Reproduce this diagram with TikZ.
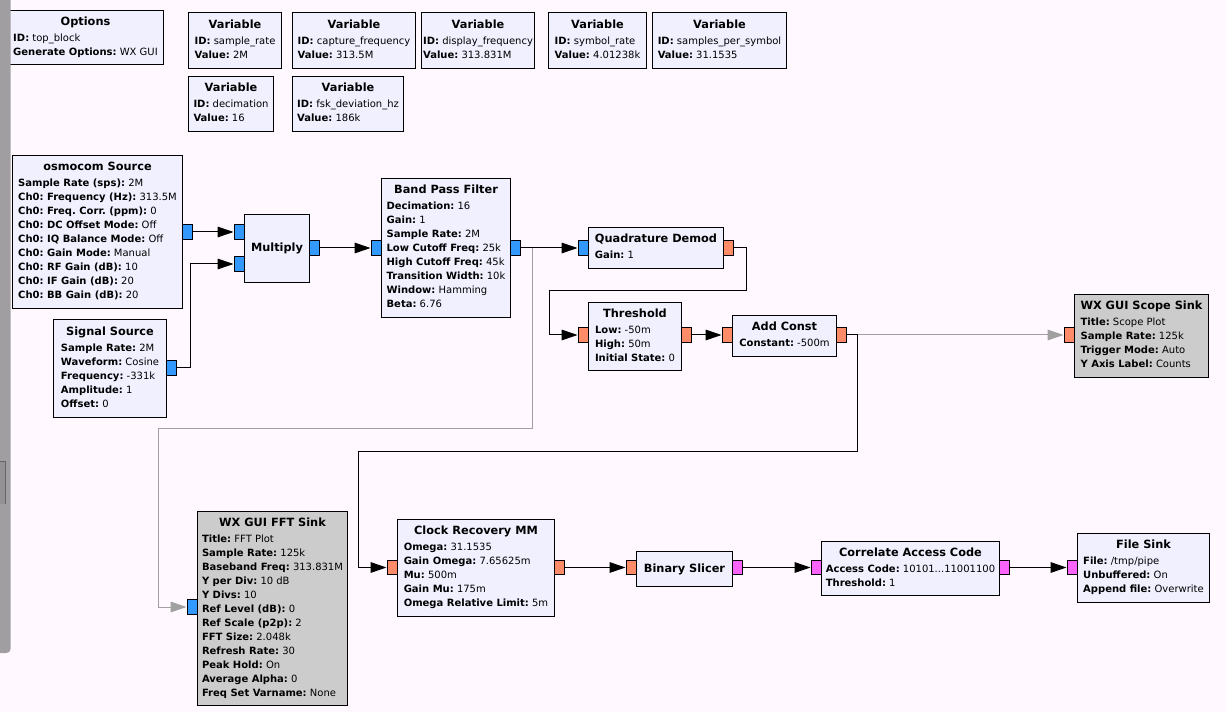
\documentclass[tikz,border=0pt]{standalone}
\usepackage{fontspec}
\setmainfont{DejaVu Sans}
\usetikzlibrary{arrows.meta}
\frenchspacing

\definecolor{fondo}{RGB}{255,249,255}
\definecolor{bloque}{RGB}{240,240,255}
\definecolor{sumidero}{RGB}{204,204,204}
\definecolor{complejo}{RGB}{51,153,255}
\definecolor{real}{RGB}{255,140,105}
\definecolor{byte}{RGB}{250,100,250}
\definecolor{gris}{RGB}{160,160,160}
\definecolor{barra}{RGB}{161,158,161}

% titulo centrado y parametros alineados a la izquierda
\newcommand{\tit}[1]{{\fontsize{8.5}{10.5}\selectfont\bfseries #1}}
\newcommand{\blq}[2]{\begin{tabular}{@{}l@{}}\multicolumn{1}{@{}c@{}}{\tit{#1}}\\[1.5pt] #2\end{tabular}}
\newcommand{\prm}[2]{\textbf{#1:} #2}

\tikzset{
  blk/.style={draw, fill=bloque, line width=0.75pt, anchor=north west, inner sep=0pt,
    font=\fontsize{7.5}{10.5}\selectfont},
  sink/.style={blk, fill=sumidero},
  sz/.style 2 args={minimum width=#1*0.75pt, minimum height=#2*0.75pt},
  port/.style={draw, line width=0.75pt, inner sep=0pt, minimum width=7.5pt, minimum height=11pt},
  cpx/.style={port, fill=complejo},
  flt/.style={port, fill=real},
  byt/.style={port, fill=byte},
  wire/.style={line width=0.75pt, -{Triangle[length=12pt, width=8pt]}},
  gwire/.style={wire, draw=gris}
}

\begin{document}
\begin{tikzpicture}[x=0.75pt, y=-0.75pt]
            \useasboundingbox (0,0) rectangle (1226,712);
            \fill[fondo] (0,0) rectangle (1226,712);

            % Variables
            \node[blk, sz={156}{54}] (opts) at (7,10) {\blq{Options}{\prm{ID}{top\_block}\\ \prm{Generate Options}{WX GUI}}};
            \node[blk, sz={93}{56}] (samprate) at (188,12) {\blq{Variable}{\prm{ID}{sample\_rate}\\ \prm{Value}{2M}}};
            \node[blk, sz={123}{56}] (capfreq) at (292,12) {\blq{Variable}{\prm{ID}{capture\_frequency}\\ \prm{Value}{313.5M}}};
            \node[blk, sz={113}{56}] (dispfreq) at (421,12) {\blq{Variable}{\prm{ID}{display\_frequency}\\ \prm{Value}{313.831M}}};
            \node[blk, sz={98}{56}] (symrate) at (548,12) {\blq{Variable}{\prm{ID}{symbol\_rate}\\ \prm{Value}{4.01238k}}};
            \node[blk, sz={134}{56}] (sps) at (652,12) {\blq{Variable}{\prm{ID}{samples\_per\_symbol}\\ \prm{Value}{31.1535}}};
            \node[blk, sz={85}{55}] (decim) at (188,76) {\blq{Variable}{\prm{ID}{decimation}\\ \prm{Value}{16}}};
            \node[blk, sz={111}{55}] (fskdev) at (292,76) {\blq{Variable}{\prm{ID}{fsk\_deviation\_hz}\\ \prm{Value}{186k}}};

            % Bloques
            \node[blk, sz={170}{153}] (osmo) at (12,155) {\blq{osmocom Source}{
              \prm{Sample Rate (sps)}{2M}\\ \prm{Ch0: Frequency (Hz)}{313.5M}\\ \prm{Ch0: Freq. Corr. (ppm)}{0}\\
              \prm{Ch0: DC Offset Mode}{Off}\\ \prm{Ch0: IQ Balance Mode}{Off}\\ \prm{Ch0: Gain Mode}{Manual}\\
              \prm{Ch0: RF Gain (dB)}{10}\\ \prm{Ch0: IF Gain (dB)}{20}\\ \prm{Ch0: BB Gain (dB)}{20}}};
            \node[blk, sz={113}{98}] (sigsrc) at (53,319) {\blq{Signal Source}{
              \prm{Sample Rate}{2M}\\ \prm{Waveform}{Cosine}\\ \prm{Frequency}{-331k}\\ \prm{Amplitude}{1}\\ \prm{Offset}{0}}};
            \node[blk, sz={65}{68}] (mult) at (244,214) {\tit{Multiply}};
            \node[blk, sz={129}{139}] (bpf) at (381,178) {\blq{Band Pass Filter}{
              \prm{Decimation}{16}\\ \prm{Gain}{1}\\ \prm{Sample Rate}{2M}\\ \prm{Low Cutoff Freq}{25k}\\
              \prm{High Cutoff Freq}{45k}\\ \prm{Transition Width}{10k}\\ \prm{Window}{Hamming}\\ \prm{Beta}{6.76}}};
            \node[blk, sz={135}{41}] (quad) at (588,227) {\blq{Quadrature Demod}{\prm{Gain}{1}}};
            \node[blk, sz={93}{68}] (thr) at (588,302) {\blq{Threshold}{
              \prm{Low}{-50m}\\ \prm{High}{50m}\\ \prm{Initial State}{0}}};
            \node[blk, sz={104}{41}] (addc) at (732,315) {\blq{Add Const}{\prm{Constant}{-500m}}};
            \node[sink, sz={134}{83}] (scope) at (1074,294) {\blq{WX GUI Scope Sink}{
              \prm{Title}{Scope Plot}\\ \prm{Sample Rate}{125k}\\ \prm{Trigger Mode}{Auto}\\ \prm{Y Axis Label}{Counts}}};
            \node[sink, sz={150}{194}] (fft) at (197,511) {\blq{WX GUI FFT Sink}{
              \prm{Title}{FFT Plot}\\ \prm{Sample Rate}{125k}\\ \prm{Baseband Freq}{313.831M}\\ \prm{Y per Div}{10 dB}\\
              \prm{Y Divs}{10}\\ \prm{Ref Level (dB)}{0}\\ \prm{Ref Scale (p2p)}{2}\\ \prm{FFT Size}{2.048k}\\
              \prm{Refresh Rate}{30}\\ \prm{Peak Hold}{On}\\ \prm{Average Alpha}{0}\\ \prm{Freq Set Varname}{None}}};
            \node[blk, sz={157}{97}] (clock) at (397,519) {\blq{Clock Recovery MM}{
              \prm{Omega}{31.1535}\\ \prm{Gain Omega}{7.65625m}\\ \prm{Mu}{500m}\\ \prm{Gain Mu}{175m}\\ \prm{Omega Relative Limit}{5m}}};
            \node[blk, sz={96}{35}] (slicer) at (636,551) {\tit{Binary Slicer}};
            \node[blk, sz={178}{54}] (corr) at (821,541) {\blq{Correlate Access Code}{
              \prm{Access Code}{10101...11001100}\\ \prm{Threshold}{1}}};
            \node[blk, sz={132}{69}] (fsink) at (1077,533) {\blq{File Sink}{
              \prm{File}{/tmp/pipe}\\ \prm{Unbuffered}{On}\\ \prm{Append file}{Overwrite}}};

            % Puertos
            \node[cpx] (osmo_o) at (187,232) {};
            \node[cpx] (sig_o) at (171,368) {};
            \node[cpx] (mult_i1) at (239,232) {};
            \node[cpx] (mult_i2) at (239,264) {};
            \node[cpx] (mult_o) at (314,248) {};
            \node[cpx] (bpf_i) at (376,248) {};
            \node[cpx] (bpf_o) at (515,248) {};
            \node[cpx] (quad_i) at (583,248) {};
            \node[flt] (quad_o) at (728,248) {};
            \node[flt] (thr_i) at (583,335) {};
            \node[flt] (thr_o) at (686,335) {};
            \node[flt] (addc_i) at (727,335) {};
            \node[flt] (addc_o) at (841,335) {};
            \node[flt] (scope_i) at (1069,335) {};
            \node[cpx] (fft_i) at (192,607) {};
            \node[flt] (clock_i) at (392,567.5) {};
            \node[flt] (clock_o) at (559,567.5) {};
            \node[flt] (slicer_i) at (631,567.5) {};
            \node[byt] (slicer_o) at (737,567.5) {};
            \node[byt] (corr_i) at (816,567.5) {};
            \node[byt] (corr_o) at (1004,567.5) {};
            \node[byt] (fsink_i) at (1072,567.5) {};

            % Conexiones
            \draw[wire] (osmo_o) -- (mult_i1);
            \draw[wire] (sig_o.east) -- ++(14,0) |- (mult_i2.west);
            \draw[wire] (mult_o) -- (bpf_i);
            \draw[gwire] (bpf_o.east) -- ++(12,0) -- ++(0,180) -| ++(-374,0) |- (fft_i.west);
            \draw[wire] (bpf_o) -- (quad_i);
            \draw[wire] (quad_o.east) -- ++(13,0) -- ++(0,43) -- ++(-197,0) |- (thr_i.west);
            \draw[wire] (thr_o) -- (addc_i);
            \draw[gwire] (addc_o) -- (scope_i);
            \draw[wire] (addc_o.east) -- ++(11,0) -- ++(0,116) -- ++(-499,0) |- (clock_i.west);
            \draw[wire] (clock_o) -- (slicer_i);
            \draw[wire] (slicer_o) -- (corr_i);
            \draw[wire] (corr_o) -- (fsink_i);

            % Barra lateral
            \fill[barra, rounded corners=3pt] (-6,-6) rectangle (10.5,653);
            \fill[barra!92!black] (-2,461) rectangle (5.5,504);
            \draw[black!60, line width=0.75pt] (-2,461) -- (5.5,461) -- (5.5,504);
\end{tikzpicture}
\end{document}
